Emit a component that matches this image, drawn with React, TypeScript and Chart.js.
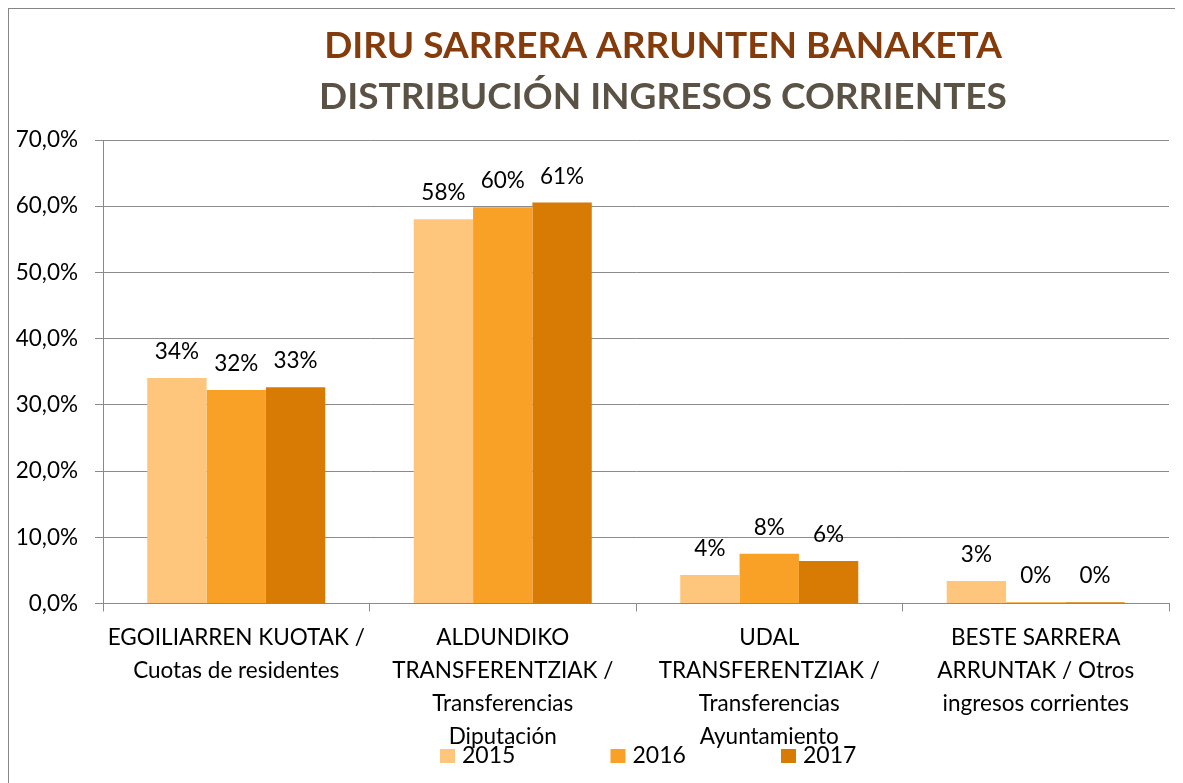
import React, { useEffect, useRef } from "react";
import { Chart, registerables } from "chart.js";

Chart.register(...registerables);

const categories: string[][] = [
  ["EGOILIARREN KUOTAK /", "Cuotas de residentes"],
  ["ALDUNDIKO", "TRANSFERENTZIAK /", "Transferencias", "Diputación"],
  ["UDAL", "TRANSFERENTZIAK /", "Transferencias", "Ayuntamiento"],
  ["BESTE SARRERA", "ARRUNTAK / Otros", "ingresos corrientes"],
];
const seriesNames = ["2015", "2016", "2017"];
const values2015 = [34.05, 58.05, 4.3, 3.4];
const values2016 = [32.25, 59.85, 7.5, 0.2];
const values2017 = [32.65, 60.55, 6.4, 0.2];
const seriesColors = ["#FEC67C", "#F9A027", "#D87B05"];
const yTicks = [0, 10, 20, 30, 40, 50, 60, 70];
const titleLine1 = "DIRU SARRERA ARRUNTEN BANAKETA";
const titleLine2 = "DISTRIBUCIÓN INGRESOS CORRIENTES";

const FONT = "Lato";
const GRID = "#8a8a8a";

const titlePlugin = {
  id: "twoLineTitle",
  afterDraw(chart: any) {
    const ctx = chart.ctx;
    ctx.save();
    ctx.textAlign = "center";
    ctx.textBaseline = "alphabetic";
    ctx.font = `bold 37px ${FONT}`;
    ctx.fillStyle = "#843C0C";
    ctx.fillText(titleLine1, 654, 49);
    ctx.fillStyle = "#5A5244";
    ctx.fillText(titleLine2, 654, 100);
    ctx.restore();
  },
};

const valueLabelPlugin = {
  id: "valueLabels",
  afterDatasetsDraw(chart: any) {
    const ctx = chart.ctx;
    ctx.save();
    ctx.font = `22.5px ${FONT}`;
    ctx.fillStyle = "#000";
    ctx.textAlign = "center";
    ctx.textBaseline = "alphabetic";
    chart.data.datasets.forEach((ds: any, i: number) => {
      const meta = chart.getDatasetMeta(i);
      meta.data.forEach((bar: any, j: number) => {
        const v = ds.data[j] as number;
        ctx.fillText(`${Math.round(v)}%`, bar.x, bar.y - 19);
      });
    });
    ctx.restore();
  },
};

const legendPlugin = {
  id: "customLegend",
  afterDraw(chart: any) {
    const ctx = chart.ctx;
    ctx.save();
    ctx.font = `23px ${FONT}`;
    ctx.textAlign = "left";
    ctx.textBaseline = "alphabetic";
    chart.data.datasets.forEach((ds: any, i: number) => {
      const x = 431 + 170.5 * i;
      ctx.fillStyle = ds.backgroundColor;
      ctx.fillRect(x, 740, 15, 14);
      ctx.fillStyle = "#000";
      ctx.fillText(ds.label, x + 22, 754);
    });
    ctx.restore();
  },
};

export default function App() {
  const ref = useRef<HTMLCanvasElement>(null);

  useEffect(() => {
    document.documentElement.style.overflow = "hidden";
    document.body.style.overflow = "hidden";
    if (!ref.current) return;
    const allValues = [values2015, values2016, values2017];
    const chart = new Chart(ref.current, {
      type: "bar",
      data: {
        labels: categories,
        datasets: seriesNames.map((name, i) => ({
          label: name,
          data: allValues[i],
          backgroundColor: seriesColors[i],
          borderWidth: 0,
          categoryPercentage: 0.668,
          barPercentage: 1,
        })),
      },
      options: {
        responsive: false,
        animation: false,
        layout: { padding: { top: 131, right: 26, bottom: 0, left: 0 } },
        plugins: {
          legend: { display: false },
          title: { display: false },
          tooltip: { enabled: false },
        },
        scales: {
          x: {
            grid: {
              offset: true,
              drawOnChartArea: false,
              drawTicks: true,
              tickLength: 8,
              color: GRID,
            },
            border: { display: true, color: GRID, width: 1 },
            ticks: {
              autoSkip: false,
              maxRotation: 0,
              minRotation: 0,
              padding: 10,
              color: "#000",
              font: { family: FONT, size: 22.5, lineHeight: "33px" },
            },
            afterFit(scale: any) {
              scale.height = 171.5;
            },
          },
          y: {
            min: 0,
            max: 70,
            afterBuildTicks(scale: any) {
              scale.ticks = yTicks.map((v) => ({ value: v }));
            },
            grid: { color: GRID, tickLength: 8, lineWidth: 1 },
            border: { display: true, color: GRID, width: 1 },
            ticks: {
              padding: 17,
              color: "#000",
              font: { family: FONT, size: 22.5 },
              callback: (v: any) => `${Number(v).toFixed(1).replace(".", ",")}%`,
            },
            afterFit(scale: any) {
              scale.width = 94;
            },
          },
        },
      },
      plugins: [titlePlugin, valueLabelPlugin, legendPlugin],
    });
    return () => chart.destroy();
  }, []);

  return (
    <div
      style={{
        width: 1200,
        height: 800,
        borderTop: "1px solid #868686",
        borderLeft: "1px solid #868686",
        background: "#fff",
      }}
    >
      <canvas ref={ref} width={1186} height={766} style={{ display: "block" }} />
    </div>
  );
}
